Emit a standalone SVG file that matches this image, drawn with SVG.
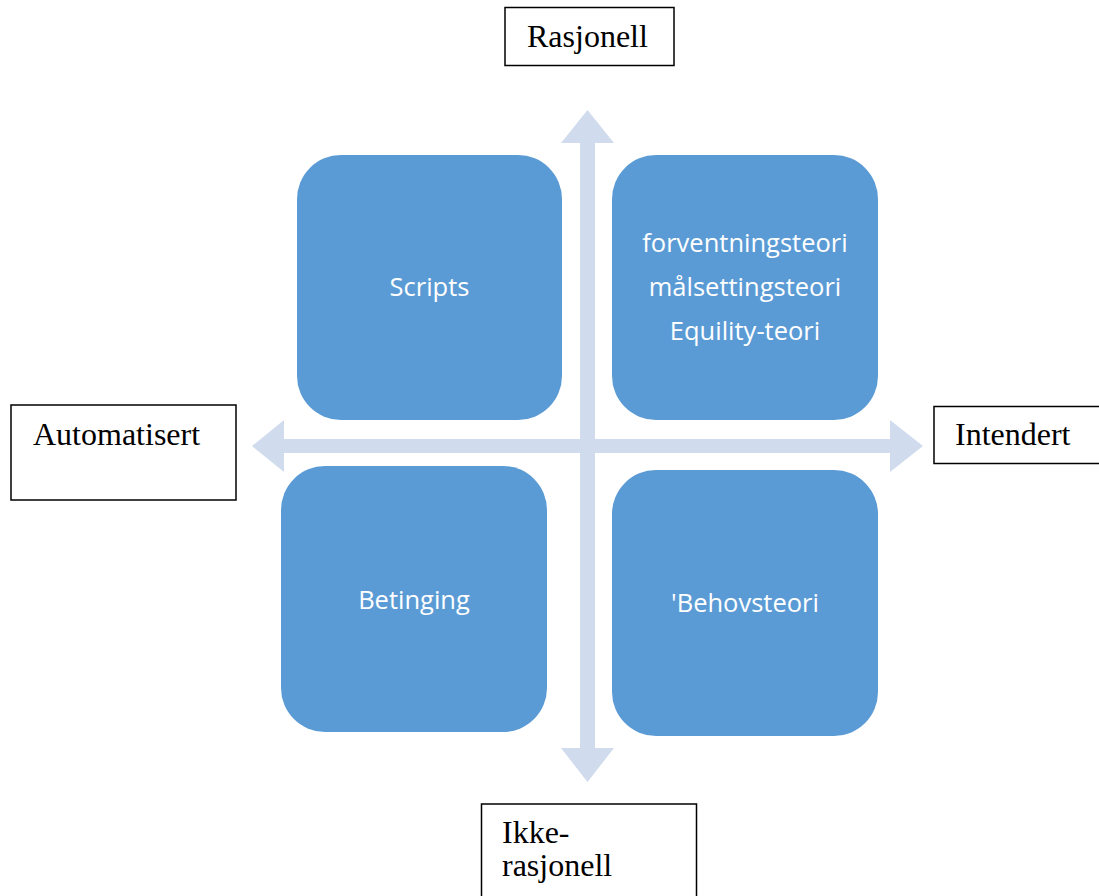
<svg xmlns="http://www.w3.org/2000/svg" width="1099" height="896" viewBox="0 0 1099 896">
  <style>
    .tile { fill: #5B9BD5; }
    .tile-text { font-family: "Open Sans", "Liberation Sans", sans-serif; font-size: 25.5px; fill: #FFFFFF; text-anchor: middle; }
    .axis { fill: #D0DCEE; }
    .label-box { fill: #FFFFFF; stroke: #000000; stroke-width: 1.5; }
    .label { font-family: "Liberation Serif", "Times New Roman", serif; font-size: 32px; fill: #000000; }
  </style>

  <!-- Connectors: the two crossing axes with arrowheads at each end -->
  <g id="connectors">
    <path class="axis" d="M587.5,110 L614,143 L595,143 L595,748 L614,748 L587.5,782 L561,748 L580,748 L580,143 L561,143 Z"/>
    <path class="axis" d="M252,446 L284,420 L284,439 L890,439 L890,420 L923,446 L890,472 L890,453 L284,453 L284,472 Z"/>
  </g>

  <!-- Quadrant tiles -->
  <g id="tile-scripts">
    <rect class="tile" x="297" y="155" width="265" height="265" rx="44" ry="44"/>
    <text class="tile-text" x="429.5" y="296">Scripts</text>
  </g>
  <g id="tile-theories">
    <rect class="tile" x="612" y="155" width="266" height="265" rx="44" ry="44"/>
    <text class="tile-text" x="745" y="252">forventningsteori</text>
    <text class="tile-text" x="745" y="296">målsettingsteori</text>
    <text class="tile-text" x="745" y="340">Equility-teori</text>
  </g>
  <g id="tile-betinging">
    <rect class="tile" x="281" y="466" width="266" height="266" rx="44" ry="44"/>
    <text class="tile-text" x="414" y="609">Betinging</text>
  </g>
  <g id="tile-behovsteori">
    <rect class="tile" x="612" y="470" width="266" height="266" rx="44" ry="44"/>
    <text class="tile-text" x="745" y="612">'Behovsteori</text>
  </g>

  <!-- Axis end labels -->
  <g id="label-rasjonell">
    <rect class="label-box" x="505" y="7.5" width="169" height="58"/>
    <text class="label" x="527" y="47">Rasjonell</text>
  </g>
  <g id="label-automatisert">
    <rect class="label-box" x="11" y="405" width="225" height="95"/>
    <text class="label" x="33" y="445">Automatisert</text>
  </g>
  <g id="label-intendert">
    <rect class="label-box" x="934" y="406.5" width="170" height="57"/>
    <text class="label" x="955" y="445">Intendert</text>
  </g>
  <g id="label-ikke-rasjonell">
    <rect class="label-box" x="481.5" y="804" width="215" height="100"/>
    <text class="label" x="502" y="843">Ikke-</text>
    <text class="label" x="502" y="876">rasjonell</text>
  </g>
</svg>
